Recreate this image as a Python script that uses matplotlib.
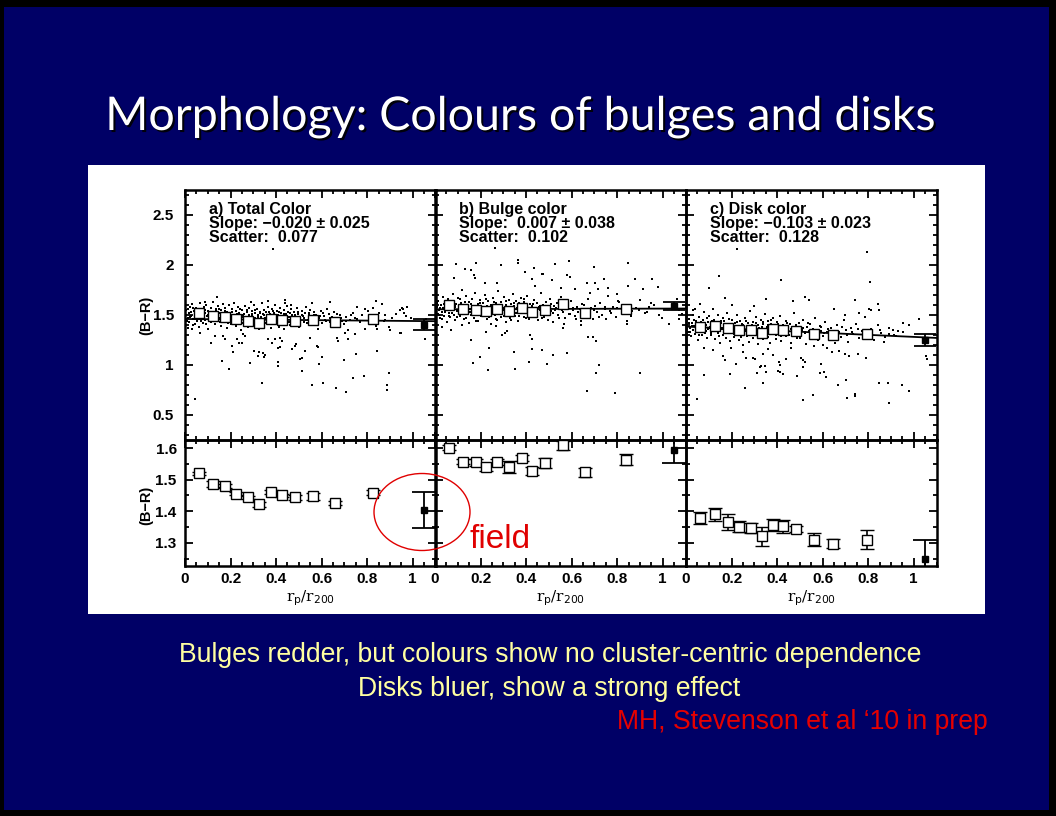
import numpy as np
import matplotlib
matplotlib.use("Agg")
import matplotlib.pyplot as plt
from matplotlib.patches import Rectangle, Ellipse
import matplotlib.patheffects as pe
from matplotlib.ticker import FixedLocator, MultipleLocator, FuncFormatter

# ---------------- data ----------------
panel_titles = ["a) Total Color", "b) Bulge color", "c) Disk color"]
slope_text = ["Slope: \u22120.020 \u00b1 0.025", "Slope:  0.007 \u00b1 0.038", "Slope: \u22120.103 \u00b1 0.023"]
scatter_text = ["Scatter:  0.077", "Scatter:  0.102", "Scatter:  0.128"]

fit_intercept = [1.460, 1.557, 1.384]
fit_slope = [-0.020, 0.007, -0.103]

bin_x_a = [0.060, 0.124, 0.177, 0.224, 0.278, 0.326, 0.379, 0.426, 0.482, 0.564, 0.657, 0.826]
bin_y_a = [1.521, 1.486, 1.480, 1.456, 1.444, 1.422, 1.461, 1.450, 1.444, 1.448, 1.427, 1.459]
bin_e_a = [0.005, 0.009, 0.005, 0.005, 0.005, 0.008, 0.005, 0.005, 0.008, 0.011, 0.007, 0.008]

bin_x_b = [0.061, 0.124, 0.178, 0.226, 0.273, 0.327, 0.380, 0.428, 0.482, 0.564, 0.657, 0.837]
bin_y_b = [1.602, 1.557, 1.555, 1.540, 1.557, 1.540, 1.570, 1.527, 1.553, 1.609, 1.523, 1.564]
bin_e_b = [0.008, 0.008, 0.012, 0.013, 0.010, 0.018, 0.010, 0.012, 0.015, 0.015, 0.015, 0.018]

bin_x_c = [0.061, 0.127, 0.183, 0.232, 0.284, 0.333, 0.383, 0.428, 0.482, 0.560, 0.646, 0.795]
bin_y_c = [1.379, 1.390, 1.367, 1.351, 1.347, 1.321, 1.356, 1.352, 1.344, 1.310, 1.297, 1.310]
bin_e_c = [0.020, 0.020, 0.025, 0.017, 0.017, 0.030, 0.018, 0.020, 0.010, 0.020, 0.015, 0.030]

field_x = 1.05
field_y = [1.403, 1.594, 1.248]
field_e = [0.057, 0.040, 0.060]

pts_a = [
 (0.006,1.55),(0.011,1.47),(0.017,1.52),(0.019,1.43),(0.023,1.58),(0.027,1.49),(0.031,1.61),(0.034,1.40),
 (0.038,1.54),(0.041,1.46),(0.044,1.51),(0.048,1.57),(0.052,1.44),(0.055,1.49),(0.058,1.53),(0.063,1.38),
 (0.066,1.62),(0.069,1.47),(0.073,1.55),(0.076,1.50),(0.079,1.42),(0.083,1.58),(0.086,1.52),(0.089,1.45),
 (0.093,1.60),(0.096,1.49),(0.099,1.54),(0.103,1.36),(0.106,1.47),(0.109,1.51),(0.113,1.57),(0.116,1.43),
 (0.119,1.49),(0.123,1.63),(0.126,1.53),(0.129,1.46),(0.133,1.41),(0.136,1.56),(0.139,1.50),(0.143,1.59),
 (0.146,1.44),(0.149,1.52),(0.153,1.47),(0.156,1.39),(0.159,1.55),(0.163,1.48),(0.166,1.61),(0.169,1.43),
 (0.173,1.51),(0.176,1.57),(0.179,1.46),(0.183,1.53),(0.186,1.37),(0.189,1.49),(0.193,1.60),(0.196,1.44),
 (0.199,1.52),(0.203,1.41),(0.206,1.56),(0.209,1.47),(0.213,1.50),(0.216,1.62),(0.219,1.45),(0.223,1.54),
 (0.226,1.39),(0.229,1.49),(0.233,1.58),(0.236,1.43),(0.239,1.52),(0.243,1.46),(0.246,1.35),(0.249,1.55),
 (0.253,1.48),(0.256,1.42),(0.259,1.51),(0.263,1.59),(0.266,1.44),(0.269,1.47),(0.273,1.53),(0.276,1.38),
 (0.279,1.50),(0.283,1.57),(0.286,1.41),(0.289,1.46),(0.293,1.54),(0.296,1.49),(0.299,1.43),(0.303,1.60),
 (0.306,1.52),(0.309,1.47),(0.313,1.40),(0.316,1.56),(0.319,1.50),(0.323,1.44),(0.326,1.36),(0.329,1.53),
 (0.333,1.48),(0.336,1.62),(0.339,1.45),(0.343,1.51),(0.346,1.39),(0.349,1.55),(0.353,1.47),(0.356,1.42),
 (0.359,1.50),(0.363,1.58),(0.366,1.44),(0.369,1.53),(0.373,1.46),(0.376,1.37),(0.379,1.49),(0.383,1.56),
 (0.386,1.41),(0.389,1.52),(0.393,1.45),(0.396,1.60),(0.399,1.48),(0.403,1.43),(0.406,1.54),(0.409,1.50),
 (0.413,1.38),(0.416,1.57),(0.419,1.46),(0.423,1.52),(0.426,1.42),(0.429,1.49),(0.433,1.55),(0.436,1.36),
 (0.439,1.47),(0.443,1.51),(0.446,1.59),(0.449,1.44),(0.453,1.53),(0.458,1.48),(0.462,1.40),(0.466,1.56),
 (0.471,1.50),(0.475,1.45),(0.479,1.53),(0.484,1.42),(0.488,1.47),(0.493,1.57),(0.497,1.51),(0.502,1.38),
 (0.507,1.46),(0.512,1.54),(0.517,1.49),(0.522,1.43),(0.527,1.52),(0.533,1.58),(0.538,1.45),(0.543,1.50),
 (0.549,1.55),(0.554,1.40),(0.559,1.48),(0.565,1.53),(0.571,1.44),(0.577,1.50),(0.583,1.36),(0.589,1.47),
 (0.596,1.54),(0.602,1.42),(0.609,1.49),(0.616,1.45),(0.623,1.56),(0.631,1.51),(0.638,1.43),(0.646,1.48),
 (0.654,1.53),(0.662,1.39),(0.671,1.46),(0.679,1.50),(0.688,1.44),(0.697,1.41),(0.707,1.48),(0.716,1.35),
 (0.726,1.45),(0.736,1.52),(0.746,1.47),(0.757,1.58),(0.768,1.43),(0.779,1.50),(0.790,1.56),(0.802,1.54),
 (0.814,1.48),(0.826,1.57),(0.839,1.41),(0.852,1.52),(0.866,1.61),(0.880,1.45),(0.895,1.38),(0.911,1.47),
 (0.928,1.51),(0.946,1.55),(0.958,1.56),(0.972,1.49),(0.991,1.47),
 (0.004,1.50),(0.009,1.44),(0.013,1.56),(0.021,1.48),(0.025,1.53),(0.033,1.46),(0.037,1.57),(0.046,1.41),
 (0.050,1.53),(0.057,1.47),(0.061,1.56),(0.068,1.52),(0.072,1.44),(0.081,1.48),(0.088,1.55),(0.094,1.41),
 (0.101,1.50),(0.108,1.45),(0.114,1.53),(0.121,1.44),(0.128,1.50),(0.134,1.54),(0.141,1.47),(0.148,1.56),
 (0.154,1.43),(0.161,1.51),(0.168,1.46),(0.174,1.54),(0.181,1.49),(0.188,1.42),(0.194,1.52),(0.201,1.47),
 (0.208,1.53),(0.214,1.44),(0.221,1.49),(0.228,1.51),(0.234,1.46),(0.241,1.56),(0.248,1.45),(0.254,1.50),
 (0.261,1.47),(0.268,1.42),(0.274,1.55),(0.281,1.48),(0.288,1.44),(0.294,1.51),(0.301,1.46),(0.308,1.55),
 (0.314,1.43),(0.321,1.48),(0.328,1.52),(0.334,1.45),(0.341,1.41),(0.348,1.50),(0.354,1.53),(0.361,1.46),
 (0.368,1.42),(0.374,1.51),(0.381,1.47),(0.388,1.54),(0.394,1.43),(0.401,1.50),(0.408,1.46),(0.414,1.53),
 (0.421,1.41),(0.428,1.48),(0.434,1.51),(0.441,1.45),(0.448,1.49),(0.455,1.43),(0.461,1.52),(0.468,1.47),
 (0.475,1.41),(0.482,1.50),(0.489,1.46),(0.496,1.53),(0.504,1.44),(0.514,1.50),(0.524,1.47),(0.535,1.42),
 (0.546,1.52),(0.557,1.46),(0.568,1.50),(0.581,1.43),(0.594,1.49),(0.607,1.52),(0.621,1.44),(0.636,1.47),
 (0.651,1.42),(0.667,1.51),(0.685,1.47),(0.705,1.44),(0.728,1.50),(0.755,1.46),
 (0.388,2.164),(0.044,0.657),(0.161,1.037),(0.193,0.960),(0.340,0.824),(0.284,1.017),(0.410,1.030),(0.410,0.990),
 (0.512,0.940),(0.556,0.797),(0.608,0.824),(0.662,0.767),(0.706,0.734),(0.739,0.874),(0.786,0.894),(0.886,0.800),
 (0.887,0.750),(0.896,0.920),(0.698,1.050),(0.589,1.007),(0.603,1.080),(0.505,1.057),(0.515,1.070),(0.527,1.137),
 (0.750,1.114),(0.845,1.137),(0.944,1.317),(1.053,1.257),(0.319,1.090),(0.325,1.134),(0.302,1.144),(0.343,1.124),
 (0.351,1.100),(0.346,1.084),(0.211,1.130),(0.237,1.224),(0.230,1.257),(0.205,1.190),(0.113,1.224),(0.132,1.290),
 (0.167,1.290),(0.176,1.257),(0.410,1.174),(0.417,1.184),(0.425,1.240),(0.419,1.270),(0.469,1.157),(0.486,1.207),
 (0.483,1.190),(0.366,1.257),(0.395,1.257),(0.384,1.224),(0.548,1.270),(0.578,1.190),(0.586,1.184),(0.669,1.267),
 (0.670,1.240),(0.717,1.257),(0.703,1.320),(0.747,1.314),(0.791,1.357),(0.843,1.357),(0.249,1.224),(0.264,1.290),
 (0.256,1.310),(0.066,1.320),(0.029,1.357),(0.015,1.374),(0.140,1.680),(0.087,1.627),(0.290,1.627),(0.366,1.640),
 (0.440,1.650),(0.467,1.600),(0.437,1.620),(0.558,1.617),(0.638,1.627),(0.838,1.644),(0.952,1.570),(0.973,1.577),
 (0.960,1.520),(0.877,1.500),(0.876,1.440),(0.840,1.390),(0.950,1.320),(0.900,1.347),(1.060,1.457),
]

pts_b = [
 (0.008,1.58),(0.012,1.51),(0.015,1.64),(0.019,1.55),(0.022,1.47),(0.026,1.60),(0.029,1.53),(0.033,1.68),
 (0.036,1.57),(0.040,1.49),(0.043,1.62),(0.047,1.55),(0.051,1.43),(0.054,1.59),(0.058,1.66),(0.061,1.52),
 (0.065,1.57),(0.068,1.48),(0.072,1.63),(0.075,1.55),(0.079,1.71),(0.083,1.50),(0.086,1.58),(0.090,1.45),
 (0.094,1.61),(0.097,1.54),(0.101,1.67),(0.104,1.57),(0.108,1.49),(0.112,1.62),(0.115,1.53),(0.119,1.75),
 (0.122,1.58),(0.126,1.46),(0.130,1.60),(0.133,1.55),(0.137,1.69),(0.140,1.51),(0.144,1.57),(0.148,1.42),
 (0.151,1.63),(0.155,1.56),(0.158,1.50),(0.162,1.66),(0.166,1.54),(0.169,1.59),(0.173,1.47),(0.176,1.72),
 (0.180,1.56),(0.184,1.52),(0.187,1.61),(0.191,1.44),(0.194,1.58),(0.198,1.65),(0.202,1.53),(0.205,1.57),
 (0.209,1.49),(0.212,1.62),(0.216,1.55),(0.220,1.70),(0.223,1.51),(0.227,1.59),(0.230,1.46),(0.234,1.64),
 (0.238,1.56),(0.241,1.53),(0.245,1.60),(0.248,1.41),(0.252,1.58),(0.256,1.67),(0.259,1.54),(0.263,1.50),
 (0.266,1.62),(0.270,1.57),(0.274,1.45),(0.277,1.74),(0.281,1.55),(0.284,1.59),(0.288,1.48),(0.292,1.63),
 (0.295,1.52),(0.299,1.57),(0.302,1.68),(0.306,1.54),(0.310,1.43),(0.313,1.60),(0.317,1.56),(0.320,1.51),
 (0.324,1.65),(0.328,1.58),(0.331,1.47),(0.335,1.61),(0.338,1.55),(0.342,1.71),(0.346,1.53),(0.349,1.59),
 (0.353,1.49),(0.356,1.64),(0.360,1.56),(0.364,1.44),(0.367,1.62),(0.371,1.57),(0.374,1.52),(0.378,1.67),
 (0.382,1.55),(0.385,1.60),(0.389,1.48),(0.392,1.63),(0.396,1.58),(0.400,1.53),(0.404,1.69),(0.408,1.56),
 (0.412,1.46),(0.416,1.61),(0.420,1.54),(0.425,1.59),(0.430,1.50),(0.434,1.65),(0.438,1.57),(0.443,1.52),
 (0.447,1.62),(0.452,1.45),(0.456,1.58),(0.461,1.55),(0.465,1.72),(0.470,1.53),(0.474,1.60),(0.479,1.48),
 (0.484,1.57),(0.489,1.63),(0.494,1.51),(0.499,1.56),(0.505,1.66),(0.511,1.54),(0.517,1.43),(0.523,1.59),
 (0.529,1.55),(0.535,1.62),(0.541,1.50),(0.548,1.57),(0.555,1.68),(0.562,1.53),(0.569,1.47),(0.576,1.60),
 (0.583,1.56),(0.591,1.51),(0.598,1.64),(0.606,1.55),(0.614,1.49),(0.622,1.58),(0.630,1.53),(0.639,1.44),
 (0.647,1.61),(0.656,1.55),(0.665,1.50),(0.674,1.66),(0.684,1.57),(0.693,1.46),(0.703,1.59),(0.713,1.53),
 (0.724,1.62),(0.735,1.50),(0.746,1.56),(0.758,1.69),(0.770,1.54),(0.782,1.58),(0.795,1.48),(0.808,1.63),
 (0.822,1.55),(0.836,1.51),(0.851,1.60),(0.867,1.54),(0.884,1.57),(0.902,1.65),(0.921,1.52),(0.940,1.58),
 (0.962,1.60),(0.985,1.50),(1.070,1.55),(1.085,1.51),
 (0.005,1.55),(0.010,1.62),(0.017,1.50),(0.024,1.57),(0.031,1.46),(0.038,1.61),(0.045,1.53),(0.052,1.58),
 (0.060,1.49),(0.067,1.64),(0.074,1.52),(0.081,1.57),(0.088,1.60),(0.095,1.48),(0.103,1.55),(0.110,1.66),
 (0.117,1.51),(0.124,1.56),(0.131,1.63),(0.138,1.47),(0.146,1.59),(0.153,1.53),(0.160,1.61),(0.167,1.50),
 (0.174,1.57),(0.182,1.44),(0.189,1.55),(0.196,1.62),(0.203,1.49),(0.210,1.58),(0.218,1.52),(0.225,1.66),
 (0.232,1.55),(0.239,1.48),(0.246,1.59),(0.254,1.53),(0.261,1.63),(0.268,1.46),(0.275,1.56),(0.282,1.51),
 (0.290,1.60),(0.297,1.55),(0.304,1.49),(0.311,1.64),(0.318,1.53),(0.326,1.58),(0.333,1.45),(0.340,1.56),
 (0.347,1.62),(0.354,1.52),(0.362,1.57),(0.369,1.49),(0.376,1.60),(0.383,1.54),(0.390,1.66),(0.398,1.47),
 (0.405,1.58),(0.413,1.52),(0.422,1.56),(0.432,1.61),(0.441,1.49),(0.450,1.55),(0.459,1.59),(0.468,1.47),
 (0.478,1.53),(0.487,1.58),(0.497,1.45),(0.508,1.61),(0.520,1.52),(0.532,1.57),(0.545,1.47),(0.559,1.55),
 (0.573,1.62),(0.588,1.51),(0.604,1.57),(0.620,1.46),(0.637,1.56),(0.655,1.60),(0.675,1.52),(0.697,1.55),
 (0.720,1.48),(0.745,1.58),(0.772,1.52),(0.800,1.57),(0.830,1.60),(0.860,1.49),(0.895,1.55),(0.930,1.53),
 (0.264,2.174),(0.091,2.007),(0.179,2.024),(0.288,1.997),(0.366,2.050),(0.366,2.017),(0.527,2.007),(0.589,2.040),
 (0.846,2.024),(0.697,1.984),(0.132,1.957),(0.158,1.947),(0.173,1.900),(0.176,1.867),(0.395,1.930),(0.435,1.974),
 (0.469,1.914),(0.476,1.914),(0.578,1.900),(0.593,1.880),(0.515,1.850),(0.666,1.824),(0.703,1.824),(0.744,1.857),
 (0.878,1.857),(0.955,1.857),(0.912,1.764),(0.978,1.784),(0.083,1.867),(0.220,1.824),(0.271,1.824),(0.439,1.790),
 (0.425,1.857),(0.553,1.774),(0.615,1.757),(0.681,1.724),(0.717,1.757),(0.761,1.774),(0.798,1.707),(0.802,1.640),
 (0.849,1.790),(0.949,1.617),(0.996,1.474),(1.028,1.407),(1.072,1.457),(1.061,1.657),(0.069,1.347),(0.158,1.247),
 (0.165,1.024),(0.196,1.080),(0.239,1.174),(0.231,0.947),(0.346,1.130),(0.351,0.964),(0.414,1.030),(0.425,1.164),
 (0.428,1.257),(0.417,1.304),(0.471,1.150),(0.490,1.014),(0.520,1.100),(0.581,1.117),(0.564,1.374),(0.567,1.407),
 (0.666,0.740),(0.791,0.724),(0.722,1.000),(0.709,0.924),(0.709,1.240),(0.695,1.284),(0.673,1.284),(0.900,0.924),
 (0.842,1.407),(0.842,1.440),(0.307,1.324),(0.293,1.297),(0.315,1.340),(0.223,1.330),(0.032,1.384),(0.120,1.400),
 (0.270,1.390),(0.640,1.400),(0.750,1.460),
]

pts_c = [
 (0.006,1.40),(0.010,1.33),(0.014,1.46),(0.018,1.37),(0.021,1.29),(0.025,1.42),(0.029,1.35),(0.032,1.50),
 (0.036,1.39),(0.040,1.31),(0.043,1.44),(0.047,1.37),(0.051,1.25),(0.054,1.41),(0.058,1.48),(0.062,1.34),
 (0.065,1.39),(0.069,1.30),(0.073,1.45),(0.076,1.37),(0.080,1.53),(0.084,1.32),(0.087,1.40),(0.091,1.27),
 (0.095,1.43),(0.098,1.36),(0.102,1.49),(0.106,1.38),(0.109,1.30),(0.113,1.44),(0.117,1.35),(0.120,1.56),
 (0.124,1.39),(0.128,1.26),(0.131,1.42),(0.135,1.36),(0.139,1.50),(0.142,1.32),(0.146,1.38),(0.150,1.22),
 (0.153,1.44),(0.157,1.37),(0.161,1.30),(0.164,1.47),(0.168,1.34),(0.172,1.40),(0.175,1.27),(0.179,1.52),
 (0.183,1.36),(0.186,1.32),(0.190,1.41),(0.194,1.24),(0.197,1.38),(0.201,1.45),(0.205,1.33),(0.208,1.37),
 (0.212,1.28),(0.216,1.42),(0.219,1.35),(0.223,1.50),(0.227,1.31),(0.230,1.39),(0.234,1.25),(0.238,1.44),
 (0.241,1.36),(0.245,1.33),(0.249,1.40),(0.252,1.20),(0.256,1.37),(0.260,1.47),(0.263,1.34),(0.267,1.29),
 (0.271,1.42),(0.274,1.36),(0.278,1.23),(0.282,1.54),(0.285,1.35),(0.289,1.39),(0.293,1.27),(0.296,1.43),
 (0.300,1.32),(0.304,1.37),(0.307,1.48),(0.311,1.34),(0.315,1.21),(0.318,1.40),(0.322,1.35),(0.326,1.30),
 (0.329,1.45),(0.333,1.38),(0.337,1.26),(0.340,1.41),(0.344,1.34),(0.348,1.51),(0.351,1.32),(0.355,1.38),
 (0.359,1.28),(0.362,1.44),(0.366,1.35),(0.370,1.22),(0.373,1.41),(0.377,1.36),(0.381,1.31),(0.384,1.47),
 (0.388,1.34),(0.392,1.39),(0.395,1.26),(0.399,1.43),(0.403,1.37),(0.407,1.32),(0.411,1.49),(0.415,1.35),
 (0.419,1.24),(0.424,1.40),(0.428,1.33),(0.432,1.38),(0.437,1.29),(0.441,1.44),(0.446,1.36),(0.450,1.31),
 (0.455,1.41),(0.459,1.22),(0.464,1.37),(0.468,1.34),(0.473,1.52),(0.478,1.32),(0.483,1.39),(0.488,1.27),
 (0.493,1.36),(0.498,1.42),(0.503,1.30),(0.509,1.35),(0.515,1.45),(0.521,1.33),(0.527,1.21),(0.533,1.38),
 (0.539,1.34),(0.545,1.41),(0.552,1.28),(0.559,1.36),(0.566,1.47),(0.573,1.31),(0.580,1.25),(0.588,1.39),
 (0.595,1.34),(0.603,1.29),(0.611,1.43),(0.619,1.33),(0.627,1.26),(0.636,1.37),(0.645,1.31),(0.654,1.22),
 (0.663,1.40),(0.672,1.33),(0.682,1.28),(0.692,1.45),(0.702,1.35),(0.713,1.23),(0.724,1.37),(0.735,1.31),
 (0.747,1.41),(0.759,1.27),(0.772,1.34),(0.785,1.48),(0.798,1.30),(0.812,1.36),(0.827,1.25),(0.842,1.40),
 (0.858,1.32),(0.875,1.28),(0.893,1.37),(0.912,1.30),(0.932,1.34),(0.955,1.33),(0.980,1.40),
 (0.004,1.36),(0.012,1.42),(0.019,1.33),(0.027,1.39),(0.034,1.45),(0.042,1.35),(0.049,1.40),(0.057,1.30),
 (0.064,1.43),(0.071,1.36),(0.079,1.41),(0.086,1.34),(0.094,1.47),(0.101,1.37),(0.108,1.32),(0.116,1.40),
 (0.123,1.45),(0.130,1.35),(0.138,1.39),(0.145,1.29),(0.152,1.42),(0.160,1.36),(0.167,1.44),(0.174,1.33),
 (0.182,1.38),(0.189,1.46),(0.196,1.34),(0.204,1.40),(0.211,1.31),(0.218,1.37),(0.226,1.43),(0.233,1.35),
 (0.240,1.28),(0.248,1.41),(0.255,1.36),(0.262,1.44),(0.270,1.33),(0.277,1.38),(0.284,1.30),(0.292,1.40),
 (0.299,1.35),(0.306,1.42),(0.314,1.32),(0.321,1.37),(0.328,1.28),(0.336,1.43),(0.343,1.36),(0.350,1.31),
 (0.358,1.40),(0.365,1.34),(0.372,1.45),(0.380,1.33),(0.387,1.38),(0.394,1.30),(0.402,1.41),(0.409,1.35),
 (0.417,1.29),(0.426,1.38),(0.435,1.34),(0.444,1.42),(0.453,1.30),(0.462,1.36),(0.471,1.32),(0.481,1.40),
 (0.491,1.33),(0.501,1.27),(0.512,1.37),(0.524,1.32),(0.536,1.42),(0.549,1.30),(0.562,1.35),(0.577,1.28),
 (0.592,1.38),(0.608,1.32),(0.625,1.36),(0.643,1.29),(0.662,1.34),(0.683,1.38),(0.705,1.30),(0.730,1.33),
 (0.757,1.36),(0.785,1.29),(0.815,1.33),(0.850,1.35),(0.890,1.31),
 (0.224,2.164),(0.795,2.134),(0.143,1.890),(0.419,1.850),(0.808,1.830),(0.102,1.767),(0.171,1.674),(0.351,1.657),
 (0.524,1.684),(0.542,1.650),(0.469,1.640),(0.744,1.650),(0.842,1.607),(0.849,1.550),(0.802,1.564),(0.813,1.550),
 (1.025,1.457),(0.952,1.417),(0.041,1.557),(0.032,1.550),(1.054,1.090),(1.057,1.057),(0.047,0.657),(0.081,0.897),
 (0.195,0.914),(0.261,0.774),(0.340,0.824),(0.313,0.924),(0.325,0.980),(0.346,0.990),(0.351,0.930),(0.403,0.940),
 (0.414,0.930),(0.425,0.910),(0.410,1.030),(0.414,0.997),(0.486,0.890),(0.515,0.647),(0.559,0.700),(0.593,1.007),
 (0.590,0.924),(0.608,0.930),(0.615,0.884),(0.666,0.800),(0.703,0.850),(0.709,0.667),(0.741,0.707),(0.742,0.690),
 (0.846,0.817),(0.889,0.817),(0.890,0.624),(0.949,0.800),(0.978,0.737),(0.791,1.074),(0.717,1.090),(0.754,1.107),
 (0.505,1.074),(0.523,1.034),(0.515,1.050),(0.512,0.984),(0.161,1.090),(0.173,1.050),(0.198,1.174),(0.220,1.007),
 (0.264,1.074),(0.293,1.074),(0.305,1.057),(0.337,1.107),(0.329,0.990),(0.640,1.134),(0.673,1.140),(0.700,1.107),
 (0.600,1.200),(0.560,1.190),(0.620,1.170),(0.120,1.150),(0.080,1.170),(0.250,1.130),(0.380,1.100),(0.460,1.170),
 (0.440,1.060),(0.360,1.160),(0.870,1.230),(0.920,1.287),(0.910,1.347),(0.650,1.560),(0.700,1.500),(0.760,1.520),
 (0.300,1.590),(0.200,1.600),(0.060,1.610),
]

# ---------------- figure ----------------
plt.rcParams['font.family'] = ['Liberation Sans', 'DejaVu Sans']
W, H = 1056, 816
fig = plt.figure(figsize=(W / 100, H / 100), dpi=100, facecolor='black')


def fx(px):
    return px / W


def fy(py):
    return 1 - py / H


fig.patches.append(Rectangle((fx(4), fy(810)), fx(1049) - fx(4), fy(7) - fy(810),
                             transform=fig.transFigure, facecolor='#000066',
                             edgecolor='none', zorder=-20))
fig.patches.append(Rectangle((fx(88), fy(614)), fx(985) - fx(88), fy(165) - fy(614),
                             transform=fig.transFigure, facecolor='white',
                             edgecolor='none', zorder=-10))

col_left = [185, 435, 686]
pw = 250.5
pts_all = [pts_a, pts_b, pts_c]
bins = [(bin_x_a, bin_y_a, bin_e_a), (bin_x_b, bin_y_b, bin_e_b), (bin_x_c, bin_y_c, bin_e_c)]
fmt = FuncFormatter(lambda v, p: '%g' % round(v, 3))


def style_axes(ax):
    ax.set_facecolor('none')
    for s in ax.spines.values():
        s.set_linewidth(1.8)
    ax.tick_params(which='both', direction='in', top=True, right=True,
                   width=1.3, labelsize=11)
    ax.tick_params(which='major', length=6)
    ax.tick_params(which='minor', length=3)
    ax.set_xlim(0, 1.1)
    ax.xaxis.set_major_locator(FixedLocator([0, 0.2, 0.4, 0.6, 0.8, 1.0]))
    ax.xaxis.set_minor_locator(MultipleLocator(0.05))
    ax.xaxis.set_major_formatter(fmt)
    ax.yaxis.set_major_formatter(fmt)


for i in range(3):
    l = col_left[i]
    # ---- upper panel ----
    ax = fig.add_axes([fx(l), fy(440), pw / W, 250 / H])
    style_axes(ax)
    ax.set_ylim(0.25, 2.75)
    ax.yaxis.set_major_locator(FixedLocator([0.5, 1.0, 1.5, 2.0, 2.5]))
    ax.yaxis.set_minor_locator(MultipleLocator(0.1))
    ax.tick_params(axis='y', pad=8)
    px_ = [p[0] for p in pts_all[i]]
    py_ = [p[1] for p in pts_all[i]]
    ax.plot(px_, py_, 's', ms=2.0, mew=0, color='black', zorder=2)
    xl = np.array([0.0, 1.1])
    ax.plot(xl, fit_intercept[i] + fit_slope[i] * xl, '-', color='black', lw=1.3, zorder=3)
    bx, by, be = bins[i]
    ax.plot(bx, by, 's', ms=6.5, mfc='white', mec='black', mew=1.0, zorder=4)
    ax.errorbar([field_x], [field_y[i]], yerr=[field_e[i]], fmt='s', ms=4, color='black',
                capsize=8, elinewidth=1.3, capthick=1.3, zorder=4)
    ax.tick_params(axis='x', labelbottom=False)
    if i > 0:
        ax.tick_params(axis='y', labelleft=False)
    for lab in ax.get_yticklabels():
        lab.set_fontweight('bold')
    ax.text(0.094, 0.952, panel_titles[i] + "\n" + slope_text[i] + "\n" + scatter_text[i],
            transform=ax.transAxes, ha='left', va='top', fontsize=11.5, fontweight='bold',
            linespacing=0.93, color='black')

    # ---- lower panel ----
    ax2 = fig.add_axes([fx(l), fy(566), pw / W, 126 / H])
    style_axes(ax2)
    ax2.set_ylim(1.2263, 1.626)
    ax2.yaxis.set_major_locator(FixedLocator([1.3, 1.4, 1.5, 1.6]))
    ax2.yaxis.set_minor_locator(MultipleLocator(0.05))
    ax2.tick_params(axis='y', pad=6)
    ax2.tick_params(axis='x', pad=4)
    ax2.errorbar(bx, by, yerr=be, fmt='s', ms=6.5, mfc='white', mec='black', mew=1.0,
                 ecolor='black', elinewidth=1.2, capsize=5, capthick=1.2, zorder=4)
    ax2.errorbar([field_x], [field_y[i]], yerr=[field_e[i]], fmt='s', ms=4, color='black',
                 capsize=9, elinewidth=1.3, capthick=1.3, zorder=4)
    if i > 0:
        ax2.tick_params(axis='y', labelleft=False)
    for lab in ax2.get_yticklabels() + ax2.get_xticklabels():
        lab.set_fontweight('bold')

    fig.text(fx(l + pw / 2), fy(598), r'r$_{\rm p}$/r$_{\rm 200}$', ha='center', va='center',
             fontsize=11, family='DejaVu Serif', color='black')

fig.text(fx(146), fy(315), '(B\u2212R)', rotation=90, ha='center', va='center',
         fontsize=10.5, fontweight='bold', color='black')
fig.text(fx(146), fy(505), '(B\u2212R)', rotation=90, ha='center', va='center',
         fontsize=10.5, fontweight='bold', color='black')

# red ellipse + "field"
fig.patches.append(Ellipse((fx(422), fy(512)), 96 / W, 77 / H, transform=fig.transFigure,
                           facecolor='none', edgecolor='#E00000', lw=1.0, zorder=10))
fig.text(fx(469), fy(548), 'field', ha='left', va='baseline', fontsize=24,
         color='#E00000', zorder=11)

# title
fig.text(fx(520), fy(117), 'Morphology: Colours of bulges and disks', ha='center', va='center',
         fontsize=33.5, color='white', family=['Lato', 'DejaVu Sans'], fontweight='normal',
         path_effects=[pe.SimplePatchShadow(offset=(1.5, -1.5), shadow_rgbFace='black', alpha=0.9),
                       pe.Normal()])

# bottom texts
fig.text(fx(550), fy(655), 'Bulges redder, but colours show no cluster-centric dependence',
         ha='center', va='center', fontsize=19.2, color='#FFFFA0')
fig.text(fx(549), fy(689), 'Disks bluer, show a strong effect',
         ha='center', va='center', fontsize=19.2, color='#FFFFA0')
fig.text(fx(988), fy(722), 'MH, Stevenson et al \u201810 in prep',
         ha='right', va='center', fontsize=19.2, color='#E60000')

fig.savefig('out.png', dpi=100, facecolor='black')
